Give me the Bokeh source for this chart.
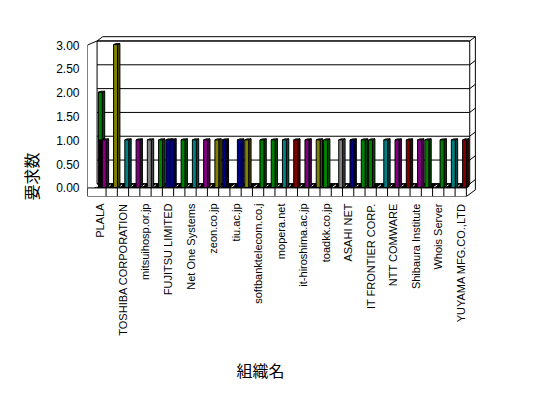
import numpy as np
from math import pi
from bokeh.plotting import figure
from bokeh.models import Range1d, FixedTicker, NumeralTickFormatter, Title
from bokeh.embed import file_html
from bokeh.resources import INLINE

# ---------------- data ----------------
n_categories = 33
tick_labels = ["PLALA", "TOSHIBA CORPORATION", "mitsuihosp.or.jp", "FUJITSU LIMITED",
               "Net One Systems", "zeon.co.jp", "tiu.ac.jp", "softbanktelecom.co.j",
               "mopera.net", "it-hiroshima.ac.jp", "toadkk.co.jp", "ASAHI NET",
               "IT FRONTIER CORP.", "NTT COMWARE", "Shibaura Institute", "Whois Server",
               "YUYAMA MFG.CO.,LTD"]
y_ticks = [0, 0.5, 1.0, 1.5, 2.0, 2.5, 3.0]

right_values = [1, 3, 1, 1, 1, 1, 1, 1, 1, 1, 1, 0, 1, 0, 1, 1, 1,
                1, 1, 1, 0, 1, 1, 1, 0, 1, 1, 1, 1, 0, 1, 1, 1]
right_colors = ["purple", "olive", "teal", "purple", "gray", "green", "navy", "green",
                "teal", "purple", "olive", "", "navy", "", "green", "green", "teal",
                "maroon", "purple", "olive", "", "gray", "navy", "green", "", "teal",
                "purple", "maroon", "purple", "", "green", "teal", "maroon"]
left_values = [1, 0, 0, 0, 0, 0, 1, 0, 0, 0, 0, 1, 0, 1, 0, 0, 0,
               0, 0, 0, 1, 0, 0, 0, 1, 0, 0, 0, 0, 1, 0, 0, 0]
left_colors = ["black", "", "", "", "", "", "navy", "", "", "", "", "navy", "", "olive",
               "", "", "", "", "", "", "green", "", "", "", "green", "", "", "", "",
               "green", "", "", ""]
stack_values = [1] + [0] * 32
stack_colors = ["green"] + [""] * 32

palette = {"black": "#000000", "navy": "#000080", "purple": "#800080", "olive": "#808000",
           "teal": "#008080", "gray": "#808080", "green": "#008000", "maroon": "#800000"}


def shade(hexc, f):
    r, g, b = int(hexc[1:3], 16), int(hexc[3:5], 16), int(hexc[5:7], 16)
    if f < 1:
        r, g, b = int(r * f), int(g * f), int(b * f)
    else:
        r, g, b = [int(c + (255 - c) * (f - 1)) for c in (r, g, b)]
    return "#%02x%02x%02x" % (r, g, b)


# ---------------- geometry constants ----------------
DX, DY = 0.85, 0.085        # depth of the box
F1, F2 = 0.10, 0.35         # bar depth (fraction of box depth)
BW = 0.35                   # bar width
SLAB = 0.18                 # floor thickness
XL, XR = -1.15, n_categories - 0.5
BACK_L, BACK_R = XL + DX, XR + 0.3
TX, TY = 0.5, 0.09          # wall thickness

p = figure(width=540, height=398, x_range=Range1d(-1.15, 33.4), y_range=Range1d(-0.18, 3.2),
           min_border_left=87, min_border_right=64, min_border_top=35, min_border_bottom=202,
           output_backend="svg", toolbar_location=None, outline_line_color=None)
p.xgrid.visible = False
p.ygrid.visible = False
p.background_fill_color = "white"

ymax = max(y_ticks)
# back wall
p.quad(left=[BACK_L], right=[BACK_R], bottom=[DY], top=[ymax + DY],
       fill_color="white", line_color="black", line_width=1)
p.segment(x0=[BACK_L] * len(y_ticks), y0=[v + DY for v in y_ticks],
          x1=[BACK_R] * len(y_ticks), y1=[v + DY for v in y_ticks], line_color="black", line_width=1)
# wall thickness on the right and top
p.segment(x0=[BACK_R] * len(y_ticks), y0=[v + DY for v in y_ticks],
          x1=[BACK_R + TX] * len(y_ticks), y1=[v + DY + TY for v in y_ticks], line_color="black")
p.segment(x0=[BACK_L, BACK_L + TX, BACK_R + TX], y0=[ymax + DY, ymax + DY + TY, ymax + DY + TY],
          x1=[BACK_L + TX, BACK_R + TX, BACK_R + TX], y1=[ymax + DY + TY, ymax + DY + TY, -SLAB + 0.14],
          line_color="black")
# left wall
p.segment(x0=[XL, XL], y0=[-SLAB, ymax], x1=[XL, BACK_L], y1=[ymax, ymax + DY], line_color="black")
# floor top (dark)
p.patch(x=[-0.5, XR, BACK_R, -0.5 + DX], y=[0, 0, DY, DY], fill_color="black", line_color="black")
bounds = np.arange(-0.5, XR, 1.0)
p.segment(x0=bounds + 0.12, y0=[0.012] * len(bounds), x1=bounds + 0.42, y1=[0.065] * len(bounds),
          line_color="white", line_width=1)
# floor slab front
p.quad(left=[XL], right=[XR], bottom=[-SLAB], top=[0], fill_color="white", line_color="black")
inner = np.arange(0.5, XR - 0.5, 1.0)
p.segment(x0=inner, y0=[-SLAB] * len(inner), x1=inner, y1=[0] * len(inner), line_color="black")
p.segment(x0=[XR], y0=[-SLAB], x1=[BACK_R + TX], y1=[-SLAB + 0.14], line_color="black")

# ---------------- bars ----------------
bars = []
for k in range(n_categories):
    if left_values[k] > 0:
        bars.append((k - 0.27, 0, left_values[k], palette[left_colors[k]]))
        if stack_values[k] > 0:
            bars.append((k - 0.27, left_values[k], left_values[k] + stack_values[k],
                         palette[stack_colors[k]]))
    if right_values[k] > 0:
        bars.append((k + 0.08, 0, right_values[k], palette[right_colors[k]]))

sx, sy, sc, tx_, ty_, tc = [], [], [], [], [], []
fl, fr, fb, ft, fc = [], [], [], [], []
for x0, b, t, c in bars:
    x1 = x0 + BW
    sx.append([x1 + F1 * DX, x1 + F2 * DX, x1 + F2 * DX, x1 + F1 * DX])
    sy.append([b + F1 * DY, b + F2 * DY, t + F2 * DY, t + F1 * DY])
    sc.append(shade(c, 0.55))
    tx_.append([x0 + F1 * DX, x1 + F1 * DX, x1 + F2 * DX, x0 + F2 * DX])
    ty_.append([t + F1 * DY, t + F1 * DY, t + F2 * DY, t + F2 * DY])
    tc.append(shade(c, 1.35))
    fl.append(x0 + F1 * DX); fr.append(x1 + F1 * DX)
    fb.append(b + F1 * DY); ft.append(t + F1 * DY); fc.append(c)

p.patches(xs=sx, ys=sy, fill_color=sc, line_color="black", line_width=1)
p.patches(xs=tx_, ys=ty_, fill_color=tc, line_color="black", line_width=1)
p.quad(left=fl, right=fr, bottom=fb, top=ft, fill_color=fc, line_color="black", line_width=1)

# ---------------- axes ----------------
p.yaxis.ticker = FixedTicker(ticks=y_ticks)
p.yaxis.formatter = NumeralTickFormatter(format="0.00")
p.yaxis.axis_line_color = None
p.yaxis.major_tick_out = 0
p.yaxis.major_tick_in = 0
p.yaxis.minor_tick_out = 0
p.yaxis.minor_tick_in = 0
p.yaxis.major_label_standoff = 8
p.yaxis.major_label_text_font = "Liberation Sans"
p.yaxis.major_label_text_font_size = "12px"
p.yaxis.major_label_text_color = "black"

label_ticks = list(range(0, n_categories, 2))
p.xaxis.ticker = FixedTicker(ticks=label_ticks)
p.xaxis.major_label_overrides = {t: lab for t, lab in zip(label_ticks, tick_labels)}
p.xaxis.major_label_orientation = pi / 2
p.xaxis.axis_line_color = None
p.xaxis.major_tick_out = 0
p.xaxis.major_tick_in = 0
p.xaxis.minor_tick_out = 0
p.xaxis.minor_tick_in = 0
p.xaxis.major_label_standoff = 7
p.xaxis.major_label_text_font = "Liberation Sans"
p.xaxis.major_label_text_font_size = "11px"
p.xaxis.major_label_text_color = "black"

p.add_layout(Title(text="組織名", align="left", offset=149, standoff=34,
                   text_font="Noto Sans CJK JP", text_font_size="16px",
                   text_font_style="normal", text_color="black"), "below")
p.add_layout(Title(text="要求数", align="left", offset=-4, standoff=21,
                   text_font="Noto Sans CJK JP", text_font_size="16px",
                   text_font_style="normal", text_color="black"), "left")

open("out.html", "w").write(file_html(p, INLINE))
